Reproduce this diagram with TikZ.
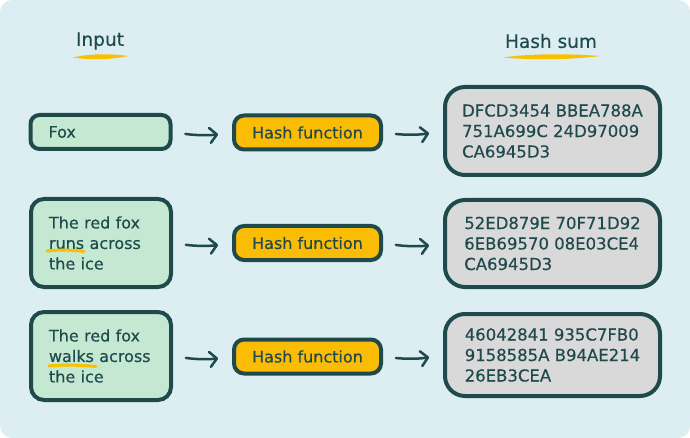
\documentclass[tikz,border=0pt]{standalone}
\usepackage{fontspec}
\setmainfont{DejaVu Sans}[BoldFont={DejaVu Sans}, BoldFeatures={FakeBold=0.35}]
\usetikzlibrary{arrows.meta}
\definecolor{bg}{HTML}{DCEEF1}
\definecolor{ink}{HTML}{1E4A4C}
\definecolor{mint}{HTML}{C4E8D1}
\definecolor{amber}{HTML}{FBBC05}
\definecolor{greybox}{HTML}{D9D9D9}
\definecolor{hl}{HTML}{F9C000}
\begin{document}
\begin{tikzpicture}[x=1pt,y=-1pt,
  box/.style={draw=ink, line width=4pt, text=ink, font=\fontsize{16}{20.5}\selectfont\bfseries, align=left, inner sep=0pt},
  inbox/.style={box, fill=mint, rounded corners=13pt, text width=104pt, inner xsep=18pt},
  hfbox/.style={box, fill=amber, rounded corners=10pt, minimum width=147pt, minimum height=34pt, align=center},
  hsbox/.style={box, fill=greybox, rounded corners=20pt, minimum width=215pt, font=\fontsize{16.5}{20.5}\selectfont\bfseries},
  flow/.style={draw=ink, line width=2.5pt, line cap=round, shorten <=13pt, shorten >=14pt, -{Straight Barb[length=7pt,width=15pt,line cap=round,line join=round]}},
  head/.style={text=ink, font=\fontsize{18.5}{20}\selectfont\bfseries, inner sep=0pt}]
\useasboundingbox (0,0) rectangle (690,438);
\fill[bg, rounded corners=12pt] (0,0) rectangle (690,438);

% headers
\node[head] (hin) at (100,41) {Input};
\node[head] (hsum) at (551,41) {Hash sum};
\fill[hl] (73,57.5) .. controls (90,53.5) and (110,53.5) .. (128,56) .. controls (110,60) and (90,60) .. (73,57.5);
\fill[hl] (503,57.5) .. controls (530,53.5) and (570,53.5) .. (600,56) .. controls (570,60) and (530,60) .. (503,57.5);

% row 1
\node[inbox, rounded corners=9pt, minimum height=34pt] (in1) at (100.5,132) {Fox};
\node[hfbox] (hf1) at (307.5,132.5) {Hash function};
\node[hsbox, minimum height=88pt] (hs1) at (552.5,131) {DFCD3454 BBEA788A\\751A699C 24D97009\\CA6945D3};

% row 2
\node[inbox, minimum height=88pt] (in2) at (101,243) {The red fox\\runs across\\the ice};
\node[hfbox] (hf2) at (307.5,243) {Hash function};
\node[hsbox, minimum height=87pt] (hs2) at (552.5,243.5) {52ED879E 70F71D92\\6EB69570 08E03CE4\\CA6945D3};

% row 3
\node[inbox, minimum height=88pt] (in3) at (101,356) {The red fox\\walks across\\the ice};
\node[hfbox] (hf3) at (307.5,356.5) {Hash function};
\node[hsbox, minimum height=82pt] (hs3) at (552.5,355) {46042841 935C7FB0\\9158585A B94AE214\\26EB3CEA};

% connectors
\foreach \r in {1,2,3}{
  \draw[flow] (in\r.east) to[bend right=8] (hf\r.west);
  \draw[flow] (hf\r.east) to[bend right=8] (hs\r.west);
}

% word highlights
\draw[hl, line width=3pt, line cap=round] (47,251) .. controls (60,249.5) and (72,250) .. (84,251.5);
\draw[hl, line width=3pt, line cap=round] (49,366) .. controls (65,364.5) and (80,365) .. (96,366.5);
\end{tikzpicture}
\end{document}
